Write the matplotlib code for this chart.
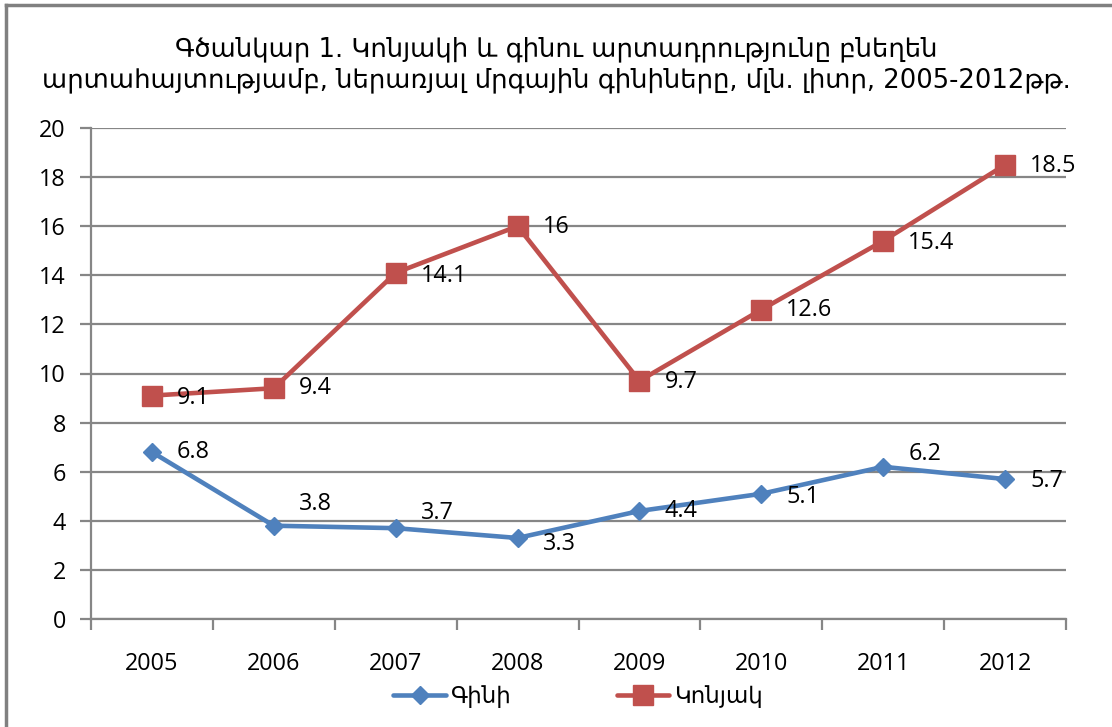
import matplotlib
matplotlib.use("Agg")
import matplotlib.pyplot as plt
from matplotlib.lines import Line2D

years = ["2005", "2006", "2007", "2008", "2009", "2010", "2011", "2012"]
wine = [6.8, 3.8, 3.7, 3.3, 4.4, 5.1, 6.2, 5.7]
cognac = [9.1, 9.4, 14.1, 16, 9.7, 12.6, 15.4, 18.5]
wine_label = "Գինի"
cognac_label = "Կոնյակ"
title = ("Գծանկար 1. Կոնյակի և գինու արտադրությունը բնեղեն\n"
         "արտահայտությամբ, ներառյալ մրգային գինիները, մլն. լիտր, 2005-2012թթ.")

# label pixel offsets (styling)
wine_dy = [0, 22, 15, -6, 0, -3, 13, -2]
cognac_dy = [-2, 0, -3, -1, -1, 0, -2, -1]

BLUE = "#4F81BD"
RED = "#C0504D"
GRID = "#868686"
FONT = ["Open Sans", "DejaVu Sans"]

plt.rcParams["font.family"] = FONT

W, H = 1112, 727
fig = plt.figure(figsize=(W / 100, H / 100), dpi=100)
ax = fig.add_axes([91 / W, 1 - 619 / H, (1066 - 91) / W, (619 - 128) / H])

x = list(range(len(years)))
ax.plot(x, wine, color=BLUE, lw=3.3, marker="D", ms=9.5, mfc=BLUE, mec=BLUE,
        solid_joinstyle="round", solid_capstyle="round", label=wine_label, zorder=3)
ax.plot(x, cognac, color=RED, lw=3.3, marker="s", ms=14, mfc=RED, mec=RED,
        solid_joinstyle="round", solid_capstyle="round", label=cognac_label, zorder=3)

for xi, v, dy in zip(x, wine, wine_dy):
    ax.annotate(f"{v:g}", (xi, v), xytext=(25, dy), textcoords="offset pixels",
                ha="left", va="center", fontsize=16.8, color="black", zorder=4)
for xi, v, dy in zip(x, cognac, cognac_dy):
    ax.annotate(f"{v:g}", (xi, v), xytext=(25, dy), textcoords="offset pixels",
                ha="left", va="center", fontsize=16.8, color="black", zorder=4)

ax.set_xlim(-0.5, len(years) - 0.5)
ax.set_ylim(0, 20)
ax.set_yticks(range(0, 21, 2))
ax.set_xticks(x)
ax.set_xticklabels(years)
ax.set_xticks([i - 0.5 for i in range(len(years) + 1)], minor=True)
ax.tick_params(axis="x", which="major", length=0, pad=24, labelsize=16.8)
ax.tick_params(axis="x", which="minor", length=8, width=1.6, color=GRID, direction="out")
ax.tick_params(axis="y", length=8, width=1.6, color=GRID, pad=10, labelsize=16.8)
ax.grid(axis="y", color=GRID, lw=1.6)
ax.set_axisbelow(True)
for s in ["top", "right"]:
    ax.spines[s].set_visible(False)
for s in ["left", "bottom"]:
    ax.spines[s].set_color(GRID)
    ax.spines[s].set_linewidth(1.6)

fig.text(0.5, 1 - 65 / H, title, ha="center", va="center", fontsize=18.6,
         family=["DejaVu Sans"], linespacing=1.25)

handles = [
    Line2D([], [], color=BLUE, lw=3.3, marker="D", ms=9.5, solid_capstyle="round"),
    Line2D([], [], color=RED, lw=3.3, marker="s", ms=14, solid_capstyle="round"),
]
fig.legend(handles, [wine_label, cognac_label], loc="center",
           bbox_to_anchor=(578 / W, 1 - 697 / H), ncol=2, frameon=False,
           fontsize=16.5, handlelength=2.3, handletextpad=0.2, columnspacing=4.6)

# outer chart border (partially cropped)
fig.add_artist(Line2D([6 / W, 6 / W], [0, 1 - 5 / H], transform=fig.transFigure,
                      color="#808080", lw=2.5))
fig.add_artist(Line2D([6 / W, 1], [1 - 5 / H, 1 - 5 / H], transform=fig.transFigure,
                      color="#808080", lw=2.5))

fig.savefig("out.png", dpi=100)
